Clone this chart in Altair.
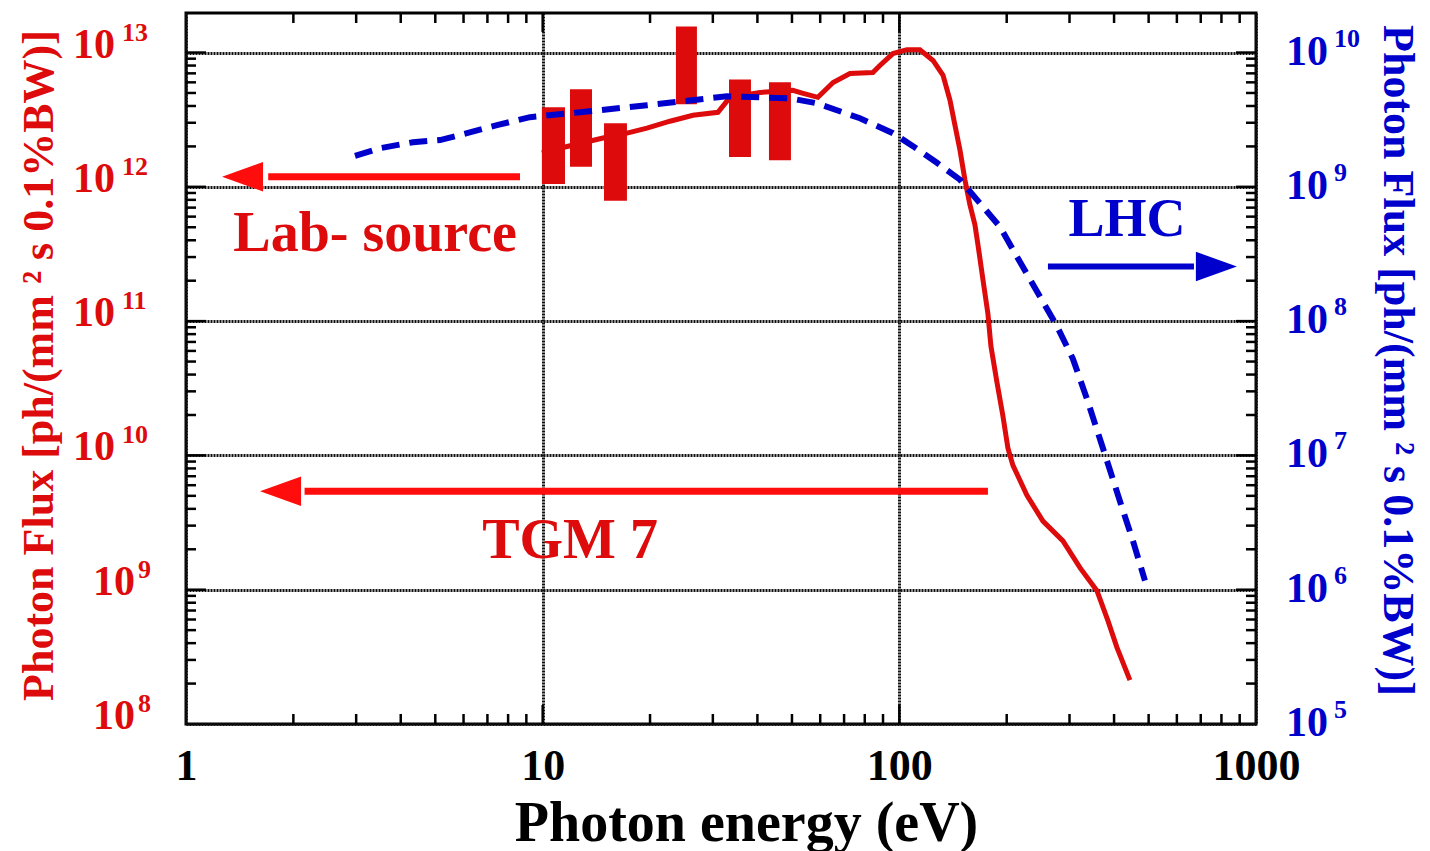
import altair as alt
import pandas as pd

W, H = 1070, 711
SERIF = "Liberation Serif"
RED = "#dd0b0b"
ARROW_RED = "#ff0d0d"
BLUE = "#0000cc"

# ---- data ----
red_energy = [9.95, 11.55, 14.76, 17.23, 19.61, 22.75, 26.39, 31.0, 33.5, 40.7, 50.3, 53.7,
              59.1, 65.2, 72.7, 84.3, 88.2, 95.96, 105.0, 114.2, 124.3, 132.6, 138.7, 143.2,
              147.9, 152.7, 157.7, 162.9, 166.1, 171.5, 177.2, 180.6, 187.7, 195.1, 201.6,
              208.2, 227.9, 252.7, 287.5, 320.9, 358.1, 384.4, 407.4, 443.1]
red_flux = [1.79e12, 1.98e12, 2.31e12, 2.51e12, 2.74e12, 3.08e12, 3.41e12, 3.59e12, 4.64e12,
            5.05e12, 5.23e12, 4.97e12, 4.64e12, 5.99e12, 6.99e12, 7.11e12, 8.01e12, 9.83e12,
            1.05e13, 1.05e13, 8.73e12, 6.76e12, 4.41e12, 2.88e12, 1.88e12, 1.13e12, 7.36e11,
            5.23e11, 3.72e11, 2.05e11, 1.13e11, 6.53e10, 3.53e10, 1.98e10, 1.13e10, 8.43e9,
            5.05e9, 3.24e9, 2.31e9, 1.46e9, 9.83e8, 5.89e8, 3.72e8, 2.12e8]

blue_energy = [2.977, 3.499, 4.329, 5.155, 6.135, 7.446, 9.213, 12.72, 19.61, 32.86, 49.36,
               58.75, 77.53, 95.96, 109.2, 127.5, 147.9, 171.5, 191.4, 208.2, 276.6, 306.7,
               335.7, 372.3, 415.5, 451.8, 488.2]
blue_flux = [1.70e9, 1.94e9, 2.15e9, 2.23e9, 2.51e9, 2.88e9, 3.30e9, 3.59e9, 4.05e9, 4.72e9,
             4.56e9, 4.19e9, 3.24e9, 2.51e9, 2.01e9, 1.51e9, 1.13e9, 7.11e8, 5.05e8, 3.41e8,
             9.18e7, 5.23e7, 2.64e7, 1.13e7, 4.56e6, 2.31e6, 1.17e6]

# lab-source bands (energy range, flux range)
band_e_lo = [9.95, 11.93, 14.86, 23.64, 33.3, 43.1]
band_e_hi = [11.55, 13.75, 17.23, 27.07, 38.37, 49.67]
band_f_lo = [1.05e12, 1.41e12, 7.88e11, 4.12e12, 1.67e12, 1.58e12]
band_f_hi = [3.91e12, 5.32e12, 2.98e12, 1.56e13, 6.31e12, 6.00e12]

# annotation arrows (tail energy, head-base energy, tip energy, flux)
left_arrow_tail = [8.64, 177.2]
left_arrow_base = [1.70, 2.15]
left_arrow_tip = [1.262, 1.613]
left_arrow_flux = [1.19e12, 5.41e9]

lhc_arrow_tail = [261.0]
lhc_arrow_base = [670.0]
lhc_arrow_tip = [884.0]
lhc_arrow_flux = [2.55e8]          # right-axis units

red_text = ["Lab- source", "TGM 7"]
red_text_energy = [3.39, 11.93]
red_text_flux = [3.30e11, 1.73e9]

blue_text = ["LHC"]
blue_text_energy = [434.6]
blue_text_flux = [4.27e8]          # right-axis units

x_tick_values = [1, 10, 100, 1000]
left_exps_two_digit = [10, 11, 12, 13]
left_exps_one_digit = [8, 9]
right_exps = [5, 6, 7, 8, 9, 10]

x_minor = [k * 10 ** d for d in range(0, 3) for k in range(2, 10)]
x_major = [10, 100]
y_minor = [k * 10.0 ** d for d in range(8, 13) for k in range(2, 10)]
y_major = [10.0 ** e for e in range(9, 14)]

# ---- scales / axes ----
x_scale = alt.Scale(type="log", domain=[1, 1000], nice=False)
yl_scale = alt.Scale(type="log", domain=[1e8, 1.97e13], nice=False)
yr_scale = alt.Scale(type="log", domain=[1e5, 1.97e10], nice=False)

grid_kw = dict(grid=True, gridColor="#111111", gridDash=[2, 1], gridWidth=3)

x_axis = alt.Axis(values=x_tick_values, labelExpr="format(datum.value,'d')",
                  labelFont=SERIF, labelFontSize=44, labelFontWeight="bold", labelColor="black",
                  labelPadding=20, labelFlush=False, ticks=False, domain=False, **grid_kw,
                  title="Photon energy (eV)", titleFont=SERIF, titleFontSize=56,
                  titleFontWeight="bold", titleColor="black", titleX=560, titleY=116,
                  titleBaseline="alphabetic", titleAlign="center")

yl_axis = alt.Axis(values=[10.0 ** e for e in range(8, 14)], labels=False, ticks=False,
                   domain=False, **grid_kw,
                   title="Photon Flux [ph/(mm ² s 0.1%BW)]", titleFont=SERIF, titleFontSize=44,
                   titleFontWeight="bold", titleColor=RED, titleAngle=270, titleX=-134,
                   titleY=352, titleBaseline="alphabetic", titleAlign="center")

yr_axis = alt.Axis(orient="right", values=[10.0 ** e for e in right_exps], labels=False,
                   ticks=False, domain=False, grid=False,
                   title="Photon Flux [ph/(mm ² s 0.1%BW)]", titleFont=SERIF, titleFontSize=44,
                   titleFontWeight="bold", titleColor=BLUE, titleAngle=90, titleX=127,
                   titleY=347, titleBaseline="alphabetic", titleAlign="center")


def X(f):
    return alt.X(f, type="quantitative", scale=x_scale, axis=x_axis)


def YL(f):
    return alt.Y(f, type="quantitative", scale=yl_scale, axis=yl_axis)


def YR(f):
    return alt.Y(f, type="quantitative", scale=yr_scale, axis=yr_axis)


HEAD_LEFT = "M0,0 L2,-0.72 L2,0.72 Z"
HEAD_RIGHT = "M0,0 L-2,-0.72 L-2,0.72 Z"
HEAD_SIZE = 1681


def exp_df(exps):
    return pd.DataFrame({"v": [10.0 ** e for e in exps], "sup": [str(e) for e in exps]})


# ---- frames ----
red_df = pd.DataFrame({"e": red_energy, "f": red_flux})
blue_df = pd.DataFrame({"e": blue_energy, "f": blue_flux})
band_df = pd.DataFrame({"e1": band_e_lo, "e2": band_e_hi, "f1": band_f_lo, "f2": band_f_hi})
larrow_df = pd.DataFrame({"tail": left_arrow_tail, "base": left_arrow_base,
                          "tip": left_arrow_tip, "f": left_arrow_flux})
rarrow_df = pd.DataFrame({"tail": lhc_arrow_tail, "base": lhc_arrow_base,
                          "tip": lhc_arrow_tip, "f": lhc_arrow_flux})
rtext_df = pd.DataFrame({"e": red_text_energy, "f": red_text_flux, "t": red_text})
btext_df = pd.DataFrame({"e": blue_text_energy, "f": blue_text_flux, "t": blue_text})
xminor_df = pd.DataFrame({"v": x_minor})
xmajor_df = pd.DataFrame({"v": x_major})
yminor_df = pd.DataFrame({"v": y_minor})
ymajor_df = pd.DataFrame({"v": y_major})

# ---- left (red) layers ----
red_line = alt.Chart(red_df).mark_line(color=RED, strokeWidth=5).encode(x=X("e"), y=YL("f"))
bands = alt.Chart(band_df).mark_rect(color=RED).encode(
    x=X("e1"), x2=alt.X2("e2"), y=YL("f1"), y2=alt.Y2("f2"))
larrow_line = alt.Chart(larrow_df).mark_rule(color=ARROW_RED, strokeWidth=7).encode(
    x=X("tail"), x2=alt.X2("base"), y=YL("f"))
larrow_head = alt.Chart(larrow_df).mark_point(shape=HEAD_LEFT, filled=True, size=HEAD_SIZE,
                                              color=ARROW_RED, opacity=1, strokeWidth=0).encode(
    x=X("tip"), y=YL("f"))
rtext = alt.Chart(rtext_df).mark_text(font=SERIF, fontSize=56, fontWeight="bold", color=RED,
                                      align="center", baseline="alphabetic").encode(
    x=X("e"), y=YL("f"), text="t:N")

tick_kw = dict(color="black", strokeWidth=2.5)
top_minor = alt.Chart(xminor_df).mark_rule(**tick_kw).encode(x=X("v"), y=alt.value(0), y2=alt.value(10))
bot_minor = alt.Chart(xminor_df).mark_rule(**tick_kw).encode(x=X("v"), y=alt.value(H), y2=alt.value(H - 10))
top_major = alt.Chart(xmajor_df).mark_rule(**tick_kw).encode(x=X("v"), y=alt.value(0), y2=alt.value(19))
bot_major = alt.Chart(xmajor_df).mark_rule(**tick_kw).encode(x=X("v"), y=alt.value(H), y2=alt.value(H - 19))
left_minor = alt.Chart(yminor_df).mark_rule(**tick_kw).encode(y=YL("v"), x=alt.value(0), x2=alt.value(10))
right_minor = alt.Chart(yminor_df).mark_rule(**tick_kw).encode(y=YL("v"), x=alt.value(W), x2=alt.value(W - 10))
left_major = alt.Chart(ymajor_df).mark_rule(**tick_kw).encode(y=YL("v"), x=alt.value(0), x2=alt.value(20))
right_major = alt.Chart(ymajor_df).mark_rule(**tick_kw).encode(y=YL("v"), x=alt.value(W), x2=alt.value(W - 20))

# tick labels: "10" plus superscript exponent
base_kw = dict(font=SERIF, fontSize=42, fontWeight="bold", baseline="middle")
sup_kw = dict(font=SERIF, fontSize=26, fontWeight="bold", baseline="middle")
l10_two = alt.Chart(exp_df(left_exps_two_digit)).mark_text(
    **base_kw, color=RED, align="right", dy=-8).encode(
    x=alt.value(-71), y=YL("v"), text=alt.value("10"))
lsup_two = alt.Chart(exp_df(left_exps_two_digit)).mark_text(
    **sup_kw, color=RED, align="left", dy=-20).encode(
    x=alt.value(-64), y=YL("v"), text="sup:N")
l10_one = alt.Chart(exp_df(left_exps_one_digit)).mark_text(
    **base_kw, color=RED, align="right", dy=-8).encode(
    x=alt.value(-51), y=YL("v"), text=alt.value("10"))
lsup_one = alt.Chart(exp_df(left_exps_one_digit)).mark_text(
    **sup_kw, color=RED, align="left", dy=-20).encode(
    x=alt.value(-48), y=YL("v"), text="sup:N")

left_layer = alt.layer(top_minor, bot_minor, top_major, bot_major, left_minor, right_minor,
                       left_major, right_major, red_line, bands, larrow_line, larrow_head, rtext,
                       l10_two, lsup_two, l10_one, lsup_one)

# ---- right (blue) layers ----
blue_line = alt.Chart(blue_df).mark_line(color=BLUE, strokeWidth=6, strokeDash=[18, 10]).encode(
    x=X("e"), y=YR("f"))
rarrow_line = alt.Chart(rarrow_df).mark_rule(color=BLUE, strokeWidth=6).encode(
    x=X("tail"), x2=alt.X2("base"), y=YR("f"))
rarrow_head = alt.Chart(rarrow_df).mark_point(shape=HEAD_RIGHT, filled=True, size=HEAD_SIZE,
                                              color=BLUE, opacity=1, strokeWidth=0).encode(
    x=X("tip"), y=YR("f"))
btext = alt.Chart(btext_df).mark_text(font=SERIF, fontSize=54, fontWeight="bold", color=BLUE,
                                      align="center", baseline="alphabetic").encode(
    x=X("e"), y=YR("f"), text="t:N")
r10 = alt.Chart(exp_df(right_exps)).mark_text(
    **base_kw, color=BLUE, align="left", dy=-1).encode(
    x=alt.value(W + 30), y=YR("v"), text=alt.value("10"))
rsup = alt.Chart(exp_df(right_exps)).mark_text(
    **sup_kw, color=BLUE, align="left", dy=-14).encode(
    x=alt.value(W + 78), y=YR("v"), text="sup:N")

right_layer = alt.layer(blue_line, rarrow_line, rarrow_head, btext, r10, rsup)

chart = (
    alt.layer(left_layer, right_layer)
    .resolve_scale(y="independent")
    .properties(width=W, height=H, autosize=alt.AutoSizeParams(type="none"),
                padding={"left": 178, "top": 5, "right": 166, "bottom": 130})
    .configure_view(stroke="black", strokeWidth=3)
    .configure_axis(labelOverlap=False)
)

chart.save("out.html", embed_options={"renderer": "svg", "actions": False})
